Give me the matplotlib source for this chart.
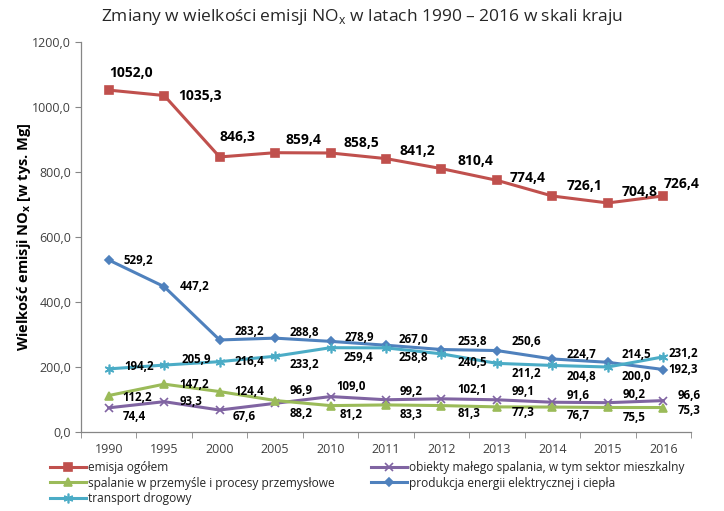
import matplotlib
matplotlib.use("Agg")
import matplotlib.pyplot as plt
import numpy as np

# --- dane (tys. Mg NOx) ---
lata = ["1990", "1995", "2000", "2005", "2010", "2011", "2012", "2013",
        "2014", "2015", "2016"]
emisja_ogolem = [1052.0, 1035.3, 846.3, 859.4, 858.5, 841.2, 810.4, 774.4,
                 726.1, 704.8, 726.4]
obiekty_male = [74.4, 93.3, 67.6, 88.2, 109.0, 99.2, 102.1, 99.1, 91.6,
                90.2, 96.6]
spalanie_przem = [112.2, 147.2, 124.4, 96.9, 81.2, 83.3, 81.3, 77.3, 76.7,
                  75.5, 75.3]
produkcja_energii = [529.2, 447.2, 283.2, 288.8, 278.9, 267.0, 253.8, 250.6,
                     224.7, 214.5, 192.3]
transport = [194.2, 205.9, 216.4, 233.2, 259.4, 258.8, 240.5, 211.2, 204.8,
             200.0, 231.2]

etykiety = ["emisja ogółem",
            "obiekty małego spalania, w tym sektor mieszkalny",
            "spalanie w przemyśle i procesy przemysłowe",
            "produkcja energii elektrycznej i ciepła",
            "transport drogowy"]

# przesuniecia etykiet danych (piksele: dx w prawo, dy w dol)
off_ogolem = [(0, -17), (14, 0), (0, -20), (10, -13), (13, -10), (13, -8),
              (16, -8), (13, -2), (14, -10), (14, -11), (0, -12)]
off_obiekty = [(14, 9), (15, 0), (13, 6), (15, 10), (6, -10), (14, -8),
               (16, -9), (15, -8), (14, -7), (15, -8), (14, -5)]
off_spalanie = [(14, 2), (15, 0), (15, 0), (15, -10), (9, 9), (14, 10),
                (16, 8), (15, 6), (14, 8), (15, 10), (14, 3)]
off_energia = [(15, 0), (16, 0), (15, -8), (14, -6), (14, -4), (13, -6),
               (16, -8), (15, -9), (14, -4), (14, -8), (5, 0)]
off_transport = [(16, -2), (17, -6), (15, 0), (14, 8), (13, 10), (13, 10),
                 (16, 9), (15, 10), (14, 11), (14, 10), (5, -3)]

plt.rcParams["font.family"] = ["Open Sans", "DejaVu Sans"]
plt.rcParams["mathtext.fontset"] = "custom"
plt.rcParams["mathtext.rm"] = "Open Sans"
plt.rcParams["mathtext.bf"] = "Open Sans:bold"

fig = plt.figure(figsize=(7.24, 5.11), dpi=100)
ax = fig.add_axes([81 / 724, 1 - 432 / 511, 610 / 724, 390 / 511])

x = np.arange(len(lata))
serie = [
    (emisja_ogolem, "#C0504D", "s", 5.5, off_ogolem, 10),
    (obiekty_male, "#8064A2", "x", 6, off_obiekty, 8.3),
    (spalanie_przem, "#9BBB59", "^", 6, off_spalanie, 8.3),
    (produkcja_energii, "#4F81BD", "D", 4, off_energia, 8.3),
    (transport, "#4BACC6", (6, 2, 0), 7, off_transport, 8.3),
]
linie = []
for (y, kolor, marker, ms, offs, fs), lab in zip(serie, etykiety):
    (ln,) = ax.plot(x, y, color=kolor, lw=2.2, marker=marker, ms=ms,
                    mec=kolor, mfc=kolor, mew=1.2, label=lab, zorder=3)
    linie.append(ln)
    for xi, yi, (dx, dy) in zip(x, y, offs):
        ax.annotate(f"{yi:.1f}".replace(".", ","), (xi, yi),
                    xytext=(dx, -dy), textcoords="offset pixels",
                    ha="left", va="center", fontsize=fs,
                    fontweight="bold", color="black", zorder=4)

ax.set_xlim(-0.5, len(lata) - 0.5)
ax.set_ylim(0, 1200)
ax.set_yticks(np.arange(0, 1201, 200))
ax.set_yticklabels([f"{v:.1f}".replace(".", ",") for v in np.arange(0, 1201, 200)])
ax.set_xticks(x)
ax.set_xticklabels(lata)
ax.set_xticks(np.arange(-0.5, len(lata), 1), minor=True)
ax.tick_params(axis="x", which="major", length=0, pad=8, labelsize=9,
               labelcolor="#404040")
ax.tick_params(axis="x", which="minor", length=4, color="#868686")
ax.tick_params(axis="y", length=4, color="#868686", labelsize=9,
               labelcolor="#404040", pad=3)
for s in ["top", "right"]:
    ax.spines[s].set_visible(False)
for s in ["left", "bottom"]:
    ax.spines[s].set_color("#868686")
    ax.spines[s].set_linewidth(0.9)

ax.set_ylabel(r"Wielkość emisji NO$_\mathbf{x}$ [w tys. Mg]", fontsize=10.5,
              fontweight="bold", color="black")
ax.yaxis.set_label_coords(-0.078, 0.5)

fig.text(0.5, 1 - 17 / 511, r"Zmiany w wielkości emisji NO$_\mathrm{x}$ w latach 1990 – 2016 w skali kraju",
         ha="center", va="center", fontsize=12.5, color="#262626")

leg_kw = dict(loc="upper left", frameon=False, fontsize=8.6, handlelength=3.0,
              handletextpad=0.2, labelspacing=0.22, borderaxespad=0,
              borderpad=0, labelcolor="#262626")
fig.legend([linie[0], linie[2], linie[4]],
           [etykiety[0], etykiety[2], etykiety[4]],
           bbox_to_anchor=(50 / 724, 1 - 461 / 511), **leg_kw)
fig.legend([linie[1], linie[3]], [etykiety[1], etykiety[3]],
           bbox_to_anchor=(371 / 724, 1 - 461 / 511), **leg_kw)

fig.savefig("out.png", dpi=100)
